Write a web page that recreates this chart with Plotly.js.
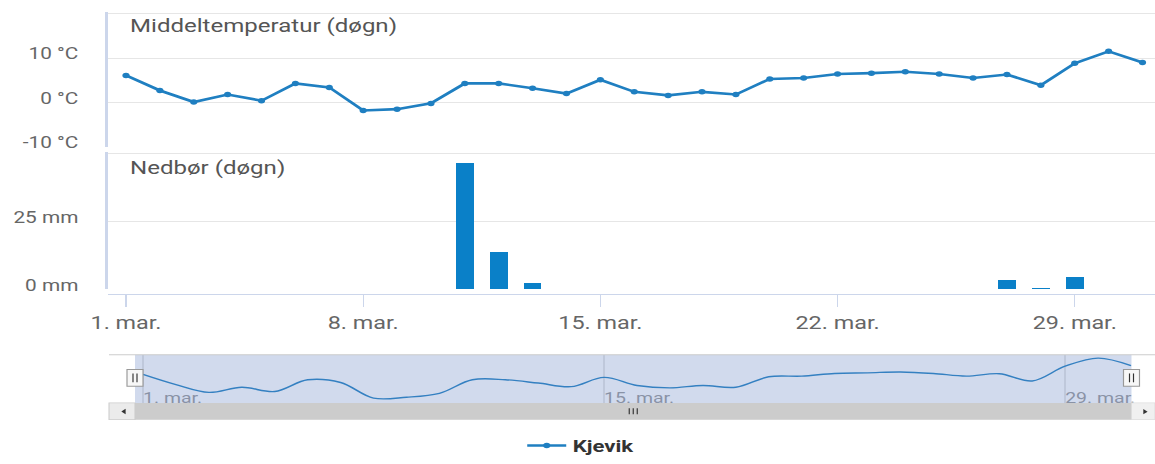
<!DOCTYPE html>
<html>
<head>
<meta charset="utf-8">
<script src="https://cdn.plot.ly/plotly-3.0.1.min.js"></script>
<style>
  html, body { margin: 0; padding: 0; background: #fff; overflow: hidden; width: 1155px; height: 464px; }
  #chart { width: 889px; height: 464px; transform: scaleX(1.3); transform-origin: 0 0; }
</style>
</head>
<body>
<div id="chart"></div>
<script>
// ---- data ----
const days = [1,2,3,4,5,6,7,8,9,10,11,12,13,14,15,16,17,18,19,20,21,22,23,24,25,26,27,28,29,30,31];
const temperature = [6.1, 2.7, 0.1, 1.8, 0.4, 4.3, 3.4, -1.8, -1.5, -0.2, 4.3, 4.3, 3.2, 2.0, 5.1, 2.4, 1.6, 2.4, 1.8, 5.3, 5.5, 6.4, 6.6, 6.9, 6.4, 5.5, 6.3, 3.9, 8.8, 11.5, 9.0];
const precipitation = [0, 0, 0, 0, 0, 0, 0, 0, 0, 0, 46.5, 13.7, 2.2, 0, 0, 0, 0, 0, 0, 0, 0, 0, 0, 0, 0, 0, 3.4, 0.5, 4.4, 0, 0];
const xTickDays = [1, 8, 15, 22, 29];
const xTickLabels = ['1. mar.', '8. mar.', '15. mar.', '22. mar.', '29. mar.'];
const navTickDays = [1, 15, 29];
const navTickLabels = ['1. mar.', '15. mar.', '29. mar.'];
const tempTicks = [-10, 0, 10, 20];
const tempTickLabels = ['-10 °C', '0 °C', '10 °C', ''];
const precipTicks = [0, 25, 50];
const precipTickLabels = ['0 mm', '25 mm', ''];
const seriesName = 'Kjevik';
const tempTitle = 'Middeltemperatur (døgn)';
const precipTitle = 'Nedbør (døgn)';

// ---- geometry helpers (reference pixels -> paper) ----
const S = 1.3, W = 889, H = 464, ML = 83;
const PW = W - ML;
const fx = rx => (rx / S - ML) / PW;
const fy = ry => 1 - ry / H;

const blue = '#1f7fc1';
const axisBlue = '#ccd6eb';
const grid = '#e6e6e6';
const FONT = 'Roboto, "Open Sans", sans-serif';

const traces = [
  {
    type: 'bar', x: days, y: precipitation, xaxis: 'x', yaxis: 'y2',
    width: 0.52, marker: { color: '#0a80c8', line: { width: 0 } },
    showlegend: false, hoverinfo: 'skip'
  },
  {
    type: 'scatter', mode: 'lines+markers', x: days, y: temperature, xaxis: 'x', yaxis: 'y',
    name: seriesName, line: { color: blue, width: 2.6 }, marker: { color: blue, size: 5.5 },
    hoverinfo: 'skip'
  },
  {
    type: 'scatter', mode: 'lines', x: days, y: temperature, xaxis: 'x3', yaxis: 'y3',
    line: { color: blue, width: 1.4, shape: 'spline', smoothing: 1 },
    showlegend: false, hoverinfo: 'skip'
  }
];

const hLine = (x0, x1, y, color, w) => ({ type: 'line', xref: 'paper', yref: 'paper', x0: fx(x0), x1: fx(x1), y0: fy(y), y1: fy(y), line: { color: color, width: w }, layer: 'above' });
const vLine = (x, y0, y1, color, w) => ({ type: 'line', xref: 'paper', yref: 'paper', x0: fx(x), x1: fx(x), y0: fy(y0), y1: fy(y1), line: { color: color, width: w }, layer: 'above' });
const rect = (x0, x1, y0, y1, fill, lineColor, lw) => ({ type: 'rect', xref: 'paper', yref: 'paper', x0: fx(x0), x1: fx(x1), y0: fy(y1), y1: fy(y0), fillcolor: fill, line: { color: lineColor || 'rgba(0,0,0,0)', width: lw || 0 }, layer: 'above' });
const tri = (pts, fill) => ({ type: 'path', xref: 'paper', yref: 'paper', path: 'M' + pts.map(p => fx(p[0]) + ',' + fy(p[1])).join(' L') + ' Z', fillcolor: fill, line: { width: 0 }, layer: 'above' });

const maskL = 135, maskR = 1131.5;
const shapes = [
  // navigator mask & outline
  rect(maskL, maskR, 361, 410, 'rgba(102,133,194,0.3)'),
  hLine(109, 1155, 361, '#cccccc', 1),
  // scrollbar
  rect(109, 1155, 410, 427, '#f2f2f2'),
  rect(maskL, maskR, 410, 427, '#cccccc'),
  rect(109, maskL, 410, 427, '#ebebeb', '#cccccc', 0.8),
  rect(maskR, 1155, 410, 427, '#f0f0f0', '#dddddd', 0.8),
  tri([[121.3, 418.7], [125.6, 416.0], [125.6, 421.4]], '#333333'),
  tri([[1147.6, 418.9], [1143.3, 416.2], [1143.3, 421.6]], '#333333'),
  vLine((maskL + maskR) / 2 - 4, 415.5, 421.5, '#333333', 0.9),
  vLine((maskL + maskR) / 2, 415.5, 421.5, '#333333', 0.9),
  vLine((maskL + maskR) / 2 + 4, 415.5, 421.5, '#333333', 0.9),
  // handles
  rect(maskL - 8, maskL + 8, 376, 393, '#f7f7f7', '#999999', 0.9),
  vLine(maskL - 2, 380, 389, '#333333', 0.9),
  vLine(maskL + 2, 380, 389, '#333333', 0.9),
  rect(maskR - 8, maskR + 8, 376, 393, '#f7f7f7', '#999999', 0.9),
  vLine(maskR - 2, 380, 389, '#333333', 0.9),
  vLine(maskR + 2, 380, 389, '#333333', 0.9)
];

const d0 = days[0], dN = days[days.length - 1];
const yTickFont = { family: FONT, size: 16, color: '#666666' };
const layout = {
  width: W, height: H,
  margin: { l: ML, r: 0, t: 0, b: 0, pad: 0 },
  paper_bgcolor: '#ffffff', plot_bgcolor: 'rgba(0,0,0,0)',
  font: { family: FONT, color: '#666666' },
  bargap: 0,
  xaxis: {
    domain: [0, 1], range: [d0 - 0.534, dN + 0.39],
    anchor: 'free', position: fy(299.5),
    showgrid: false, zeroline: false,
    showline: true, linecolor: axisBlue, linewidth: 1,
    ticks: 'outside', ticklen: 12, tickcolor: axisBlue, tickwidth: 1,
    tickvals: xTickDays, ticktext: xTickLabels,
    tickfont: { family: FONT, size: 18, color: '#666666' },
    fixedrange: true
  },
  yaxis: {
    domain: [fy(150), fy(12)], range: [-10.1, 20.4], anchor: 'x',
    tickvals: tempTicks, ticktext: tempTickLabels,
    showgrid: true, gridcolor: grid, gridwidth: 1, zeroline: false,
    showline: true, linecolor: axisBlue, linewidth: 2.5,
    ticks: '', ticklabelposition: 'outside top', ticklabelstandoff: 17, ticklabelshift: 7,
    tickfont: yTickFont,
    fixedrange: true
  },
  yaxis2: {
    domain: [fy(294.5), fy(155)], range: [0, 50.5], anchor: 'x',
    tickvals: precipTicks, ticktext: precipTickLabels,
    showgrid: true, gridcolor: grid, gridwidth: 1, zeroline: false,
    showline: true, linecolor: axisBlue, linewidth: 2.5,
    ticks: '', ticklabelposition: 'outside top', ticklabelstandoff: 17, ticklabelshift: 7,
    tickfont: yTickFont,
    fixedrange: true
  },
  xaxis3: {
    domain: [0, 1], range: [d0 - 1.066, dN + 0.75], anchor: 'y3',
    tickvals: navTickDays, ticktext: navTickLabels,
    ticklabelposition: 'inside right', ticklabelstandoff: -9,
    showgrid: true, gridcolor: grid, gridwidth: 1, zeroline: false, showline: false,
    ticks: '', tickfont: { family: FONT, size: 15, color: '#999999' },
    fixedrange: true
  },
  yaxis3: {
    domain: [fy(410), fy(361)], range: [-3.4, 12.6], anchor: 'x3',
    showgrid: false, zeroline: false, showticklabels: false, showline: false, ticks: '',
    fixedrange: true
  },
  showlegend: true,
  legend: {
    orientation: 'h', x: 0.394, xanchor: 'left', y: fy(454), yanchor: 'middle',
    font: { family: FONT, size: 17, color: '#333333', weight: 'bold' },
    bgcolor: 'rgba(0,0,0,0)'
  },
  annotations: [
    { xref: 'paper', yref: 'paper', x: fx(127), y: fy(26), xanchor: 'left', yanchor: 'middle', showarrow: false,
      text: tempTitle, font: { family: FONT, size: 18.5, color: '#555555' } },
    { xref: 'paper', yref: 'paper', x: fx(127), y: fy(170.5), xanchor: 'left', yanchor: 'middle', showarrow: false,
      text: precipTitle, font: { family: FONT, size: 18.5, color: '#555555' } }
  ],
  shapes: shapes
};

Plotly.newPlot('chart', traces, layout, { displayModeBar: false, staticPlot: true, responsive: false });
</script>
</body>
</html>
